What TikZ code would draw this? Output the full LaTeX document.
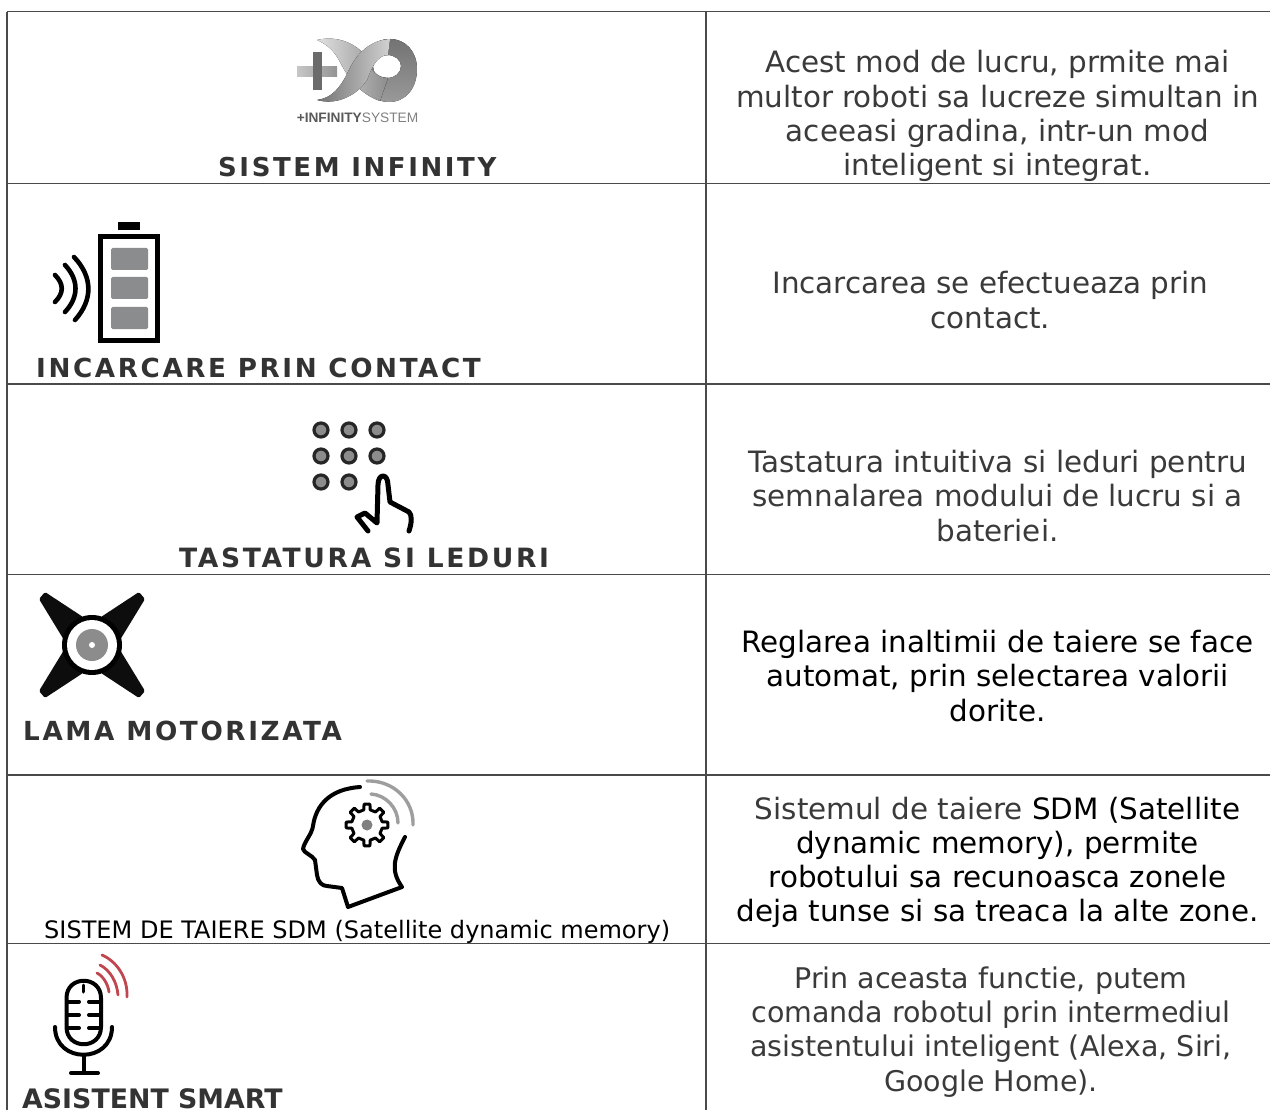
\documentclass[tikz,border=0pt]{standalone}
\usepackage{fontspec}
\setmainfont{DejaVu Sans}
\newfontfamily\spaced[LetterSpace=10]{DejaVu Sans Bold}
\newfontfamily\logofont{Liberation Sans}
\usetikzlibrary{shadings}
\definecolor{gridc}{HTML}{4A4A4A}
\definecolor{txt}{HTML}{3A3A3A}
\definecolor{lbl}{HTML}{333333}
\definecolor{cellg}{HTML}{8A8C8E}
\definecolor{micred}{HTML}{C0474F}
\tikzset{
 x=1pt,y=-1pt,
 gridline/.style={draw=gridc,line width=1.4pt},
 head/.style={anchor=base west,inner sep=0pt,font=\spaced\fontsize{#1}{#1}\selectfont,text=lbl},
 headplain/.style={anchor=base west,inner sep=0pt,font=\bfseries\fontsize{26.8}{26}\selectfont,text=lbl},
 smallhead/.style={anchor=base west,inner sep=0pt,font=\fontsize{24.03}{24}\selectfont,text=black},
 body/.style={anchor=center,inner sep=0pt,align=center,text=txt,font=\fontsize{29.4}{34.2}\selectfont},
 icon/.style={line width=4pt,line cap=round,line join=round,draw=black},
 wave/.style={line width=4.6pt,line cap=round,draw=black},
 led/.style={circle,draw=black!85,line width=3.2pt,fill=black!45,minimum size=14pt,inner sep=0pt},
 cellbar/.style={fill=cellg,rounded corners=1.5pt},
 bladearm/.style={fill=black!95,rounded corners=1.5pt},
 graywave/.style={draw=black!38,line width=3.4pt,line cap=round},
 redwave/.style={draw=micred,line width=2.8pt,line cap=round},
}
\begin{document}
\begin{tikzpicture}
\useasboundingbox (0,0) rectangle (1270,1110);
\fill[white] (0,0) rectangle (1270,1110);
% grid
\draw[gridline] (7,11.8)--(1270,11.8);
\draw[gridline] (7,183.6)--(1270,183.6);
\draw[gridline] (7,384)--(1270,384);
\draw[gridline] (7,574.4)--(1270,574.4);
\draw[gridline] (7,775)--(1270,775);
\draw[gridline] (7,943.4)--(1270,943.4);
\draw[gridline] (7,11.8)--(7,1110);
\draw[gridline] (706,11.8)--(706,1110);
% row 1 logo
\fill[left color=black!22,right color=black!42] (297,66.5) rectangle (337,77);
\fill[black!58] (312.5,52) rectangle (322,90);
\fill[even odd rule,top color=black!55,bottom color=black!40]
  (390,39) .. controls (406,39) and (417,52) .. (417,69) .. controls (417,88) and (406,102) .. (389,102) .. controls (372,102) and (362,88) .. (360,70) .. controls (362,52) and (374,39) .. (390,39) -- cycle
  (387,55) .. controls (379,55) and (373,61) .. (373,67) .. controls (373,74) and (380,78) .. (387,78) .. controls (395,78) and (401,73) .. (401,66) .. controls (401,60) and (395,55) .. (387,55) -- cycle;
\fill[left color=black!12,right color=black!45] (317,40) .. controls (338,35) and (356,44) .. (366,56) .. controls (369,68) and (376,78) .. (388,78) -- (380,101) .. controls (360,94) and (348,78) .. (340,62) .. controls (334,50) and (326,44) .. (317,40) -- cycle;
\fill[left color=black!55,right color=black!18] (317,100) .. controls (332,98) and (340,88) .. (348,72) .. controls (356,54) and (370,40) .. (390,39) -- (388,55) .. controls (378,55) and (372,66) .. (367,80) .. controls (358,94) and (338,106) .. (317,100) -- cycle;
\node[anchor=center,inner sep=0pt,font=\logofont\fontsize{13.7}{14}\selectfont,text=black!65] (logotext) at (357.5,117.5) {\textbf{+INFINITY}\textcolor{black!50}{SYSTEM}};
\node[head=26] (h1) at (218,177) {SISTEM INFINITY};
% row 2 battery
\fill[black] (118,222) rectangle (140,230);
\draw[black,line width=5pt] (100.5,236.5) rectangle (157.5,340.5);
\fill[cellbar] (111,248) rectangle (148,270);
\fill[cellbar] (111,277) rectangle (148,299);
\fill[cellbar] (111,307) rectangle (148,329);
\draw[wave] (55,275) .. controls (64,284) and (64,293) .. (55,302);
\draw[wave] (65,265) .. controls (79,280) and (79,297) .. (65,312);
\draw[wave] (74,257) .. controls (93,277) and (93,300) .. (75,320);
\node[head=26.2] (h2) at (36,377) {INCARCARE PRIN CONTACT};
% row 3 keypad
\foreach \x/\y/\n in {321/430/a,349/430/b,377/430/c,321/456/d,349/456/e,377/456/f,321/482/g,349/482/h}
  \node[led] (k\n) at (\x,\y) {};
\draw[icon,line width=5pt] (368,531) -- (357,517) -- (365,513) -- (377,523) -- (378,485) .. controls (378,473) and (388,473) .. (388,485) -- (390,502) -- (409,512) .. controls (412,515) and (412,522) .. (409,531);
\node[head=26.55] (h3) at (179,567) {TASTATURA SI LEDURI};
% row 4 blade
\foreach \sx/\sy in {1/1,-1/1,1/-1,-1/-1}
  \fill[bladearm,xshift=92pt,yshift=-645pt,xscale=\sx,yscale=\sy] (-47,-53) -- (-9,-28) -- (-28,-5) -- (-53,-46) -- cycle;
\fill[black] (92,645) circle (30);
\fill[white] (92,645) circle (25);
\fill[black!45] (92,645) circle (16);
\fill[white] (92,645) circle (3);
\node[head=26.25] (h4) at (23,740) {LAMA MOTORIZATA};
% row 5 head
\draw[icon] (360,787) .. controls (330,789) and (316,805) .. (313,826) .. controls (312,834) and (304,842) .. (303,849) .. controls (304,853) and (312,855) .. (315,860) -- (317,875) .. controls (318,882) and (322,886) .. (327,886) -- (342,888) -- (348,907) -- (402,887) .. controls (390,870) and (394,858) .. (405,837);
\draw[black,line width=3pt,line join=round,shift={(367,825)}] (-12:15.5) \foreach \a in {0,45,...,315}{ -- (\a-12:15.5) -- (\a-8:21) -- (\a+8:21) -- (\a+12:15.5) } -- cycle;
\fill[black!50] (367,825) circle (5.5);
\draw[graywave] (371,794) .. controls (386,795) and (398,808) .. (398,823);
\draw[graywave] (367,781) .. controls (393,780) and (414,800) .. (413,825);
\node[smallhead] (h5) at (44,938) {SISTEM DE TAIERE SDM (Satellite dynamic memory)};
% row 6 mic
\draw[icon] (66.5,998) .. controls (66.5,975) and (101,975) .. (101,998) -- (101,1027) .. controls (101,1050) and (66.5,1050) .. (66.5,1027) -- cycle;
\foreach \y in {1001.5,1015,1028}{\draw[icon] (67,\y) -- (79,\y); \draw[icon] (89,\y) -- (100,\y);}
\draw[icon,line width=3pt] (83.5,985) -- (83.5,992);
\draw[icon] (55,1027) .. controls (55,1064) and (112,1064) .. (112,1027);
\draw[icon] (83.5,1055) -- (83.5,1072);
\draw[icon] (71,1073) -- (98,1073);
\draw[redwave] (97,973) .. controls (103,976) and (108,984) .. (109,992);
\draw[redwave] (100,965) .. controls (110,970) and (117,982) .. (118,995);
\draw[redwave] (102,955) .. controls (116,961) and (128,977) .. (127,997);
\node[headplain] (h6) at (22,1108) {ASISTENT SMART};
% right column
\node[body] (b1) at (997.5,116) {Acest mod de lucru, prmite mai\\multor roboti sa lucreze simultan in\\aceeasi gradina, intr-un mod\\inteligent si integrat.};
\node[body] (b2) at (990.5,300) {Incarcarea se efectueaza prin\\contact.};
\node[body] (b3) at (997.5,496) {Tastatura intuitiva si leduri pentru\\semnalarea modului de lucru si a\\bateriei.};
\node[body,text=black] (b4) at (997.5,676) {Reglarea inaltimii de taiere se face\\automat, prin selectarea valorii\\dorite.};
\node[body,text=black] (b5) at (997.5,862.5) {\textcolor{txt}{Sistemul de taiere} SDM (Satellite\\dynamic memory), permite\\robotului sa recunoasca zonele\\deja tunse si sa treaca la alte zone.};
\node[body,font=\fontsize{28.5}{34.2}\selectfont] (b6) at (991,1032) {Prin aceasta functie, putem\\comanda robotul prin intermediul\\asistentului inteligent (Alexa, Siri,\\Google Home).};
\end{tikzpicture}
\end{document}
